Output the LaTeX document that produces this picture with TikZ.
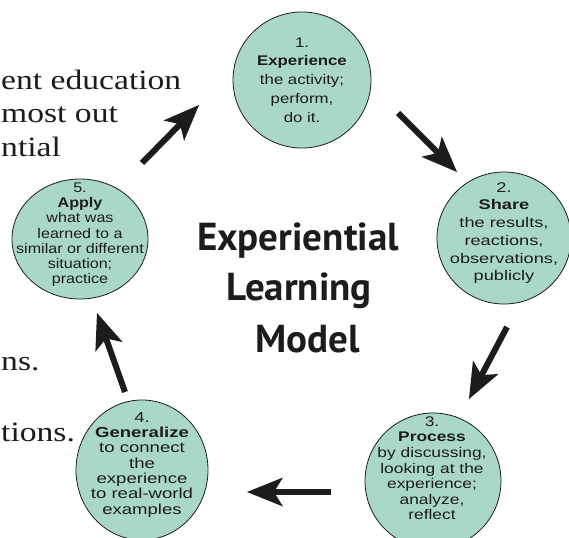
\documentclass[tikz,border=0pt]{standalone}
\usepackage{fontspec}
\usepackage{graphicx}
\setmainfont{Liberation Sans}
\newfontfamily\bgserif[FakeStretch=1.2]{Liberation Serif}
\newfontfamily\titlefont{PT Sans}
\usetikzlibrary{arrows.meta}
\definecolor{bubblefill}{RGB}{170,216,199}
\definecolor{ink}{RGB}{28,28,28}
\newcommand{\bubbletext}[4]{\scalebox{#1}[1]{\fontsize{#2}{#3}\selectfont\begin{tabular}{@{}c@{}}#4\end{tabular}}}
\begin{document}
\begin{tikzpicture}[x=1pt,y=-1pt,
  bubble/.style={fill=bubblefill,draw=ink,line width=0.8pt},
  bubbletxt/.style={inner sep=0pt,text=ink},
  bigarrow/.style={draw=ink,line width=6pt,line cap=butt,
    -{Stealth[length=36pt,width=29pt,inset=9pt,line width=0pt]}},
  bgtext/.style={inner sep=0pt,anchor=base west,font=\bgserif\fontsize{28}{33}\selectfont,text=ink},
  titletxt/.style={inner sep=0pt,anchor=base,font=\titlefont\bfseries\fontsize{39}{46}\selectfont,text=ink}]
\useasboundingbox (0,0) rectangle (569,537);
\clip (0,0) rectangle (569,537);
\fill[white] (0,0) rectangle (569,537);

% background page text
\node[bgtext] (b1) at (1,90) {ent education};
\node[bgtext] (b2) at (1,123) {most out};
\node[bgtext] (b3) at (1,157) {ntial};
\node[bgtext] (b4) at (1,370) {ns.};
\node[bgtext] (b5) at (1,441) {tions.};

% bubbles
\coordinate (c1) at (302,80);
\coordinate (c2) at (504,238);
\coordinate (c3) at (433,481);
\coordinate (c4) at (142,470);
\coordinate (c5) at (80,239);
\draw[bubble] (c1) ellipse [x radius=69, y radius=68];
\draw[bubble] (c2) ellipse [x radius=67, y radius=66];
\draw[bubble] (c3) ellipse [x radius=68, y radius=68];
\draw[bubble] (c4) ellipse [x radius=66, y radius=70];
\draw[bubble] (c5) ellipse [x radius=68, y radius=60];

\node[bubbletxt] (n1) at (302,81) {\bubbletext{1.2}{14}{18.75}{1.\\\textbf{Experience}\\the activity;\\perform,\\do it.}};
\node[bubbletxt] (n2) at (504,233) {\bubbletext{1.3}{14}{17.7}{2.\\\textbf{Share}\\the results,\\reactions,\\observations,\\publicly}};
\node[bubbletxt] (n3) at (432,470) {\bubbletext{1.24}{14}{15.6}{3.\\\textbf{Process}\\by discussing,\\looking at the\\experience;\\analyze,\\reflect}};
\node[bubbletxt] (n4) at (142,465) {\bubbletext{1.28}{14.5}{15.33}{4.\\\textbf{Generalize}\\to connect\\the\\experience\\to real-world\\examples}};
\node[bubbletxt] (n5) at (80,235) {\bubbletext{1.15}{14}{15.3}{5.\\\textbf{Apply}\\what was\\learned to a\\similar or different\\situation;\\practice}};

% title
\node[titletxt] (t1) at (298,250) {Experiential};
\node[titletxt] (t2) at (299,300) {Learning};
\node[titletxt] (t3) at (308,352) {Model};

% arrows
\coordinate (a1s) at (142,163); \coordinate (a1e) at (199,105);
\coordinate (a2s) at (398,113); \coordinate (a2e) at (457,172);
\coordinate (a3s) at (507,327); \coordinate (a3e) at (469,399);
\coordinate (a4s) at (331,492); \coordinate (a4e) at (247,492);
\coordinate (a5s) at (125,392); \coordinate (a5e) at (97,313);
\draw[bigarrow] (a1s) -- (a1e);
\draw[bigarrow] (a2s) -- (a2e);
\draw[bigarrow] (a3s) -- (a3e);
\draw[bigarrow] (a4s) -- (a4e);
\draw[bigarrow] (a5s) -- (a5e);
\end{tikzpicture}
\end{document}
